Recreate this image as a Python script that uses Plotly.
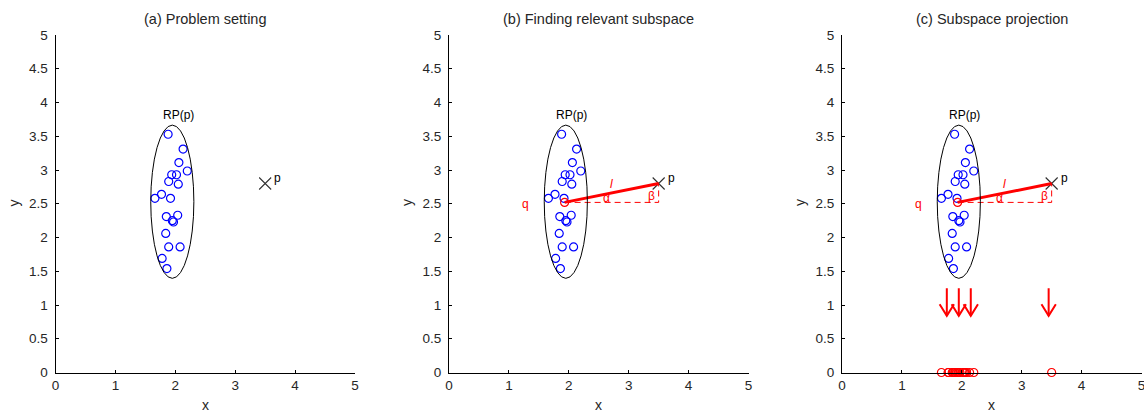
import plotly.graph_objects as go

# ---- data ----
pts_x = [1.88, 2.13, 2.06, 2.20, 1.94, 2.02, 1.89, 2.05, 1.77, 1.66,
         1.92, 1.85, 2.04, 1.95, 1.97, 1.84, 1.89, 2.08, 1.78, 1.86]
pts_y = [3.53, 3.31, 3.11, 2.985, 2.93, 2.93, 2.83, 2.79, 2.64, 2.58,
         2.58, 2.31, 2.33, 2.25, 2.23, 2.06, 1.86, 1.86, 1.69, 1.54]
p_point = (3.5, 2.8)
q_point = (1.93, 2.52)
ellipse_center = (1.95, 2.53)
ellipse_radii = (0.36, 1.135)
arrow_x = [1.75, 1.95, 2.15, 3.45]
arrow_top = 1.25
arrow_tip = 0.84
titles = ["(a) Problem setting", "(b) Finding relevant subspace", "(c) Subspace projection"]
tick_vals_x = [0, 1, 2, 3, 4, 5]
tick_vals_y = [0, 0.5, 1, 1.5, 2, 2.5, 3, 3.5, 4, 4.5, 5]
tick_text_y = ["0", "0.5", "1", "1.5", "2", "2.5", "3", "3.5", "4", "4.5", "5"]

W, H = 1144, 412
FONT = "Liberation Sans, Arial, sans-serif"
TXT = "#262626"
BLUE = "#0000ff"
RED = "#ff0000"

panel_left_px = [55.5, 449, 842]
panel_w_px = 299.5
y_bot_px, y_top_px = 372.5, 35

fig = go.Figure()
layout = dict(
    width=W, height=H, margin=dict(l=0, r=0, t=0, b=0, autoexpand=False),
    paper_bgcolor="white", plot_bgcolor="white", showlegend=False,
    font=dict(family=FONT, size=13, color=TXT),
)
annotations = []
shapes = []

for i in range(3):
    n = "" if i == 0 else str(i + 1)
    xa, ya = "x" + n, "y" + n
    x0 = panel_left_px[i] / W
    x1 = (panel_left_px[i] + panel_w_px) / W
    axis_common = dict(showgrid=False, zeroline=False, showline=True, linecolor="black",
                       linewidth=1, ticks="inside", ticklen=3, tickcolor="black",
                       mirror=False, tickfont=dict(family=FONT, size=13.5, color=TXT),
                       fixedrange=True, automargin=False, ticklabeloverflow="allow")
    layout["xaxis" + n] = dict(domain=[x0, x1], range=[0, 5], tickvals=tick_vals_x,
                               anchor=ya, **axis_common)
    layout["yaxis" + n] = dict(domain=[1 - y_bot_px / H, 1 - y_top_px / H], range=[0, 5],
                               tickvals=tick_vals_y, ticktext=tick_text_y,
                               ticklabelstandoff=4, anchor=xa, **axis_common)

    # ellipse
    cx, cy = ellipse_center
    rx, ry = ellipse_radii
    shapes.append(dict(type="circle", xref=xa, yref=ya, x0=cx - rx, x1=cx + rx,
                       y0=cy - ry, y1=cy + ry, line=dict(color="black", width=1)))

    # blue points
    fig.add_trace(go.Scatter(x=pts_x, y=pts_y, mode="markers", xaxis=xa, yaxis=ya,
                             marker=dict(symbol="circle-open", size=8, color=BLUE,
                                         line=dict(width=1.2, color=BLUE))))
    # p point
    fig.add_trace(go.Scatter(x=[p_point[0]], y=[p_point[1]], mode="markers", xaxis=xa, yaxis=ya,
                             marker=dict(symbol="x-thin-open", size=12, color="#333",
                                         line=dict(width=1.1, color="#333"))))
    annotations.append(dict(text="p", x=p_point[0] + 0.21, y=p_point[1] + 0.08, xref=xa, yref=ya,
                            showarrow=False, font=dict(size=12, color="black")))
    annotations.append(dict(text="RP(p)", x=cx + 0.1, y=cy + ry + 0.15, xref=xa, yref=ya,
                            showarrow=False, font=dict(size=12, color="black")))
    # titles and axis labels
    annotations.append(dict(text=titles[i], x=(x0 + x1) / 2, y=1 - 19 / H, xref="paper",
                            yref="paper", showarrow=False, font=dict(size=14.5, color=TXT),
                            xanchor="center", yanchor="middle"))
    annotations.append(dict(text="x", x=(x0 + x1) / 2, y=1 - 405 / H, xref="paper",
                            yref="paper", showarrow=False, font=dict(size=14, color=TXT),
                            xanchor="center", yanchor="middle"))
    annotations.append(dict(text="y", x=(panel_left_px[i] - 42) / W, y=1 - 203 / H,
                            xref="paper", yref="paper", showarrow=False, textangle=-90,
                            font=dict(size=14, color=TXT), xanchor="center", yanchor="middle"))

    if i >= 1:
        qx, qy = q_point
        px_, py_ = p_point
        # dashed right triangle
        fig.add_trace(go.Scatter(x=[qx, px_, px_], y=[qy, qy, py_], mode="lines",
                                 xaxis=xa, yaxis=ya,
                                 line=dict(color=RED, width=1, dash="6px,4px")))
        # thick line q -> p
        fig.add_trace(go.Scatter(x=[qx, px_], y=[qy, py_], mode="lines", xaxis=xa, yaxis=ya,
                                 line=dict(color=RED, width=3)))
        fig.add_trace(go.Scatter(x=[qx], y=[qy], mode="markers", xaxis=xa, yaxis=ya,
                                 marker=dict(symbol="circle-open", size=8, color=RED,
                                             line=dict(width=1.2, color=RED))))
        annotations.append(dict(text="q", x=qx - 0.66, y=qy - 0.02, xref=xa, yref=ya,
                                showarrow=False, font=dict(size=12, color=RED)))
        annotations.append(dict(text="<i>l</i>", x=qx + 0.78, y=qy + 0.27, xref=xa, yref=ya,
                                showarrow=False, font=dict(size=12, color=RED)))
        annotations.append(dict(text="α", x=qx + 0.7, y=qy + 0.06, xref=xa, yref=ya,
                                showarrow=False, font=dict(size=12, color=RED)))
        annotations.append(dict(text="β", x=px_ - 0.12, y=qy + 0.1, xref=xa, yref=ya,
                                showarrow=False, font=dict(size=12, color=RED)))

    if i == 2:
        # projected points on the x axis
        fig.add_trace(go.Scatter(x=pts_x + [p_point[0]], y=[0] * (len(pts_x) + 1),
                                 mode="markers", xaxis=xa, yaxis=ya, cliponaxis=False,
                                 marker=dict(symbol="circle-open", size=8, color=RED,
                                             line=dict(width=1.2, color=RED))))
        # down arrows
        hw, hh = 0.12, 0.17
        ax_, ay_ = [], []
        for a in arrow_x:
            ax_ += [a, a, None, a - hw, a, a + hw, None]
            ay_ += [arrow_top, arrow_tip, None, arrow_tip + hh, arrow_tip, arrow_tip + hh, None]
        fig.add_trace(go.Scatter(x=ax_, y=ay_, mode="lines", xaxis=xa, yaxis=ya,
                                 line=dict(color=RED, width=2)))

layout["annotations"] = annotations
layout["shapes"] = shapes
fig.update_layout(**layout)
fig.write_html("out.html", config={"displayModeBar": False},
               post_script="document.body.style.margin='0';document.body.style.overflow='hidden';")
